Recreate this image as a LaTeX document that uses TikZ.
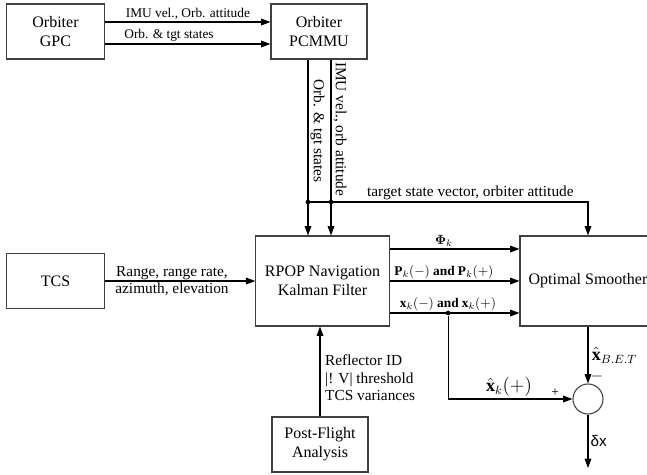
\documentclass[tikz,border=0pt]{standalone}
\usepackage{amsmath}
\usepackage{amssymb}
\usepackage{bm}
\usepackage{fontspec}
\setmainfont{Liberation Serif}
\newfontfamily\arialfont{Liberation Sans}
\usetikzlibrary{shapes,arrows.meta,positioning}
\usepackage{xcolor}

\begin{document}
\begin{tikzpicture}
      [x=0.75pt, y=-0.75pt,
      line width=0.8pt,
      >={Triangle[length=7pt,width=5pt]},
      box style/.style={draw=black!75, rectangle, align=center, inner sep=0pt, font=\fontsize{12}{14}\selectfont},
      small box/.style={box style, minimum width=72pt, minimum height=41.25pt},
      big box/.style={box style, minimum width=100pt, minimum height=67.5pt},
      label style1/.style={inner sep=1.5pt, font=\fontsize{10}{12}\selectfont},
      label style2/.style={inner sep=1.5pt, align=left, font=\fontsize{11.5}{13}\selectfont},
      label style3/.style={inner sep=1.5pt, font=\fontsize{13.5}{15}\selectfont},
      dot style/.style={circle, fill, inner sep=0pt, minimum size=3.5pt}
      ]
    \useasboundingbox (0,0) rectangle (647,475);

    \node[small box, minimum width=74pt] (gpc) at (55.5,31.5) {Orbiter\\GPC};
    \node[small box] (pcmmu) at (319,31.5) {Orbiter\\PCMMU};
    \node[small box, minimum width=73pt] (tcs) at (55.5,281) {TCS};
    \node[big box] (rpop) at (322.5,281) {RPOP Navigation\\Kalman Filter};
    \node[big box, minimum width=102pt] (smoother) at (588,281) {Optimal Smoother};
    \node[small box] (post) at (320,444.5) {Post-Flight\\Analysis};
    \node[circle, draw=black!75, minimum size=22.5pt, inner sep=0pt] (sum) at (588,399) {};

    \coordinate (imuy) at (0,22);
    \coordinate (orby) at (0,44);
    \coordinate (orbx) at (308,202);
    \coordinate (imux) at (331,202);
    \coordinate (xhaty) at (509,399);
    \coordinate (dxend) at (588,468);

    \draw[->] (gpc.east |- imuy) -- (pcmmu.west |- imuy)
      node[label style1, midway, above] {IMU vel., Orb. attitude};
    \draw[->] (gpc.east |- orby) -- (pcmmu.west |- orby)
      node[label style1, pos=0.1, anchor=south west] {Orb. \& tgt states};

    \draw[->] (pcmmu.south -| orbx) -- (rpop.north -| orbx)
      node[label style2, pos=0.1, rotate=-90, anchor=south west] {Orb. \& tgt states};
    \draw[->] (pcmmu.south -| imux) -- (rpop.north -| imux)
      node[label style2, pos=0, rotate=-90, anchor=south west] {IMU vel., orb attitude};
    \draw[->] (orbx) -| (smoother.north)
      node[label style2, pos=0.29, above] {target state vector, orbiter attitude};
    \node[dot style] at (orbx) {};
    \node[dot style] at (imux) {};

    \draw[->] (tcs.east) -- (rpop.west |- tcs.east)
      node[label style2, midway, align=center, xshift=-6pt] {Range, range rate,\\azimuth, elevation};

    \draw[->] ([yshift=24pt]rpop.east) -- ([yshift=24pt]smoother.west)
      node[label style1, midway, above, xshift=-8pt] {$\bm{\Phi}_k$};
    \draw[->] (rpop.east) -- (smoother.west)
      node[label style1, midway, above, xshift=-8pt] {$\mathbf{P}_k(-)$ \textbf{and} $\mathbf{P}_k(+)$};
    \draw[->] ([yshift=-24pt]rpop.east) -- ([yshift=-24pt]smoother.west)
      node[label style1, midway, above, xshift=-5pt] {$\mathbf{x}_k(-)$ \textbf{and} $\mathbf{x}_k(+)$}
      node[dot style, pos=0.45] (xsplit) {};

    \draw[->] (xsplit) |- (sum.west)
      node[label style1, pos=0.93, above] {+};
    \node[label style3, above] at (xhaty) {$\hat{\mathbf{x}}_k(+)$};
    \draw[->] (smoother.south) -- (sum.north)
      node[label style3, midway, right, xshift=1pt] {$\hat{\mathbf{x}}_{B.E.T}$}
      node[label style2, pos=0.88, right] {$-$};
    \draw[->] (sum.south) -- (dxend)
      node[label style2, midway, right] {\arialfont δx};

    \draw[->] (post.north) -- (post.north |- rpop.south)
      node[label style2, pos=0.43, right, xshift=2pt] {Reflector ID\\|! V| threshold\\TCS variances};
\end{tikzpicture}
\end{document}
